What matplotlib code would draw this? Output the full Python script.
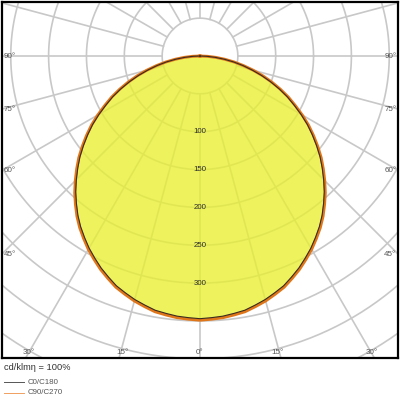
import numpy as np
import matplotlib
matplotlib.use("Agg")
import matplotlib.pyplot as plt
from matplotlib.lines import Line2D

plt.rcParams["font.family"] = ["Liberation Sans", "DejaVu Sans"]

# luminous intensity (cd/klm), every 2.5 degrees
gamma = [0, 2.5, 5, 7.5, 10, 12.5, 15, 17.5, 20, 22.5, 25, 27.5, 30, 32.5, 35, 37.5,
         40, 42.5, 45, 47.5, 50, 52.5, 55, 57.5, 60, 62.5, 65, 67.5, 70, 72.5, 75,
         77.5, 80, 82.5, 85, 87.5, 90]
c0_c180 = [347, 346, 345, 343, 341, 337, 333, 328, 323, 316, 309, 301, 293, 284, 275, 265,
           254, 243, 231, 219, 207, 194, 181, 168, 154, 140, 127, 113, 99, 85, 71,
           58, 45, 32, 20, 9, 0]
c90_c270 = [349, 348, 347, 345, 343, 339, 335, 330, 325, 318, 311, 303, 295, 286, 277, 267,
            256, 245, 233, 221, 209, 196, 183, 170, 156, 142, 129, 115, 101, 87, 73,
            59, 46, 33, 21, 10, 0]

ring_values = [50, 100, 150, 200, 250, 300, 350, 400, 450, 500, 550]
ring_labels = [100, 150, 200, 250, 300]
angle_labels = [0, 15, 30, 45, 60, 75, 90]

scale = 0.757  # px per cd
x_half = 198 / scale
y_top = 54 / scale
y_bot = -302 / scale


def curve_xy(values):
    g = np.radians(gamma)
    v = np.array(values, dtype=float)
    # right half (C0 / C90) and mirrored left half (C180 / C270)
    xs = np.concatenate([-(v * np.sin(g))[::-1], (v * np.sin(g))[1:]])
    ys = np.concatenate([-(v * np.cos(g))[::-1], -(v * np.cos(g))[1:]])
    return xs, ys


def main():
    fig = plt.figure(figsize=(4, 4), dpi=100)
    ax = fig.add_axes([2 / 400, 42 / 400, 396 / 400, 356 / 400])
    ax.set_xlim(-x_half, x_half)
    ax.set_ylim(y_bot, y_top)
    ax.set_aspect("equal")
    ax.set_xticks([])
    ax.set_yticks([])
    for sp in ax.spines.values():
        sp.set_linewidth(1.6)
        sp.set_color("black")

    grid_col = "#c8c8c8"
    t = np.linspace(0, 2 * np.pi, 400)
    for r in ring_values:
        ax.plot(r * np.cos(t), r * np.sin(t), color=grid_col, lw=1.2, zorder=1)
    for a in range(0, 360, 15):
        ar = np.radians(a)
        ax.plot([50 * np.sin(ar), 700 * np.sin(ar)], [-50 * np.cos(ar), -700 * np.cos(ar)],
                color=grid_col, lw=1.2, zorder=1)

    xs, ys = curve_xy(c90_c270)
    ax.fill(xs, ys, color="#e8ef30", alpha=0.78, lw=0, zorder=2)
    ax.plot(xs, ys, color="#e0761a", lw=2.1, zorder=3, solid_joinstyle="round")
    xs, ys = curve_xy(c0_c180)
    ax.plot(xs, ys, color="#3a2a20", lw=0.8, zorder=4, solid_joinstyle="round")

    for v in ring_labels:
        ax.text(0, -v, str(v), ha="center", va="center", fontsize=5.7,
                color="#2a2a2a", zorder=5)

    lab_col = "#555555"
    fs = 5.8
    for g in angle_labels:
        gr = np.radians(g)
        if g == 0:
            ax.text(0, y_bot + 3, "0°", ha="center", va="bottom", fontsize=fs, color=lab_col)
            continue
        y_side = -x_half / np.tan(gr)
        if y_side > y_bot + 10:
            ax.text(-x_half + 2, y_side, f"{g}°", ha="left", va="center", fontsize=fs, color=lab_col)
            ax.text(x_half - 2, y_side, f"{g}°", ha="right", va="center", fontsize=fs, color=lab_col)
        else:
            xb = -y_bot * np.tan(gr)
            ax.text(-xb + 4, y_bot + 3, f"{g}°", ha="center", va="bottom", fontsize=fs, color=lab_col)
            ax.text(xb - 4, y_bot + 3, f"{g}°", ha="center", va="bottom", fontsize=fs, color=lab_col)

    fig.text(4 / 400, 1 - 367 / 400, "cd/klmη = 100%", ha="left", va="center",
             fontsize=6.7, color="#333333")
    fig.add_artist(Line2D([4 / 400, 24 / 400], [1 - 382 / 400] * 2, color="#555555", lw=0.7))
    fig.text(28 / 400, 1 - 382 / 400, "C0/C180", ha="left", va="center", fontsize=5.7, color="#555555")
    fig.add_artist(Line2D([4 / 400, 24 / 400], [1 - 393 / 400] * 2, color="#f0a060", lw=0.7))
    fig.text(28 / 400, 1 - 393 / 400, "C90/C270", ha="left", va="center", fontsize=5.7, color="#555555")

    fig.savefig("out.png", dpi=100)


if __name__ == "__main__":
    main()
